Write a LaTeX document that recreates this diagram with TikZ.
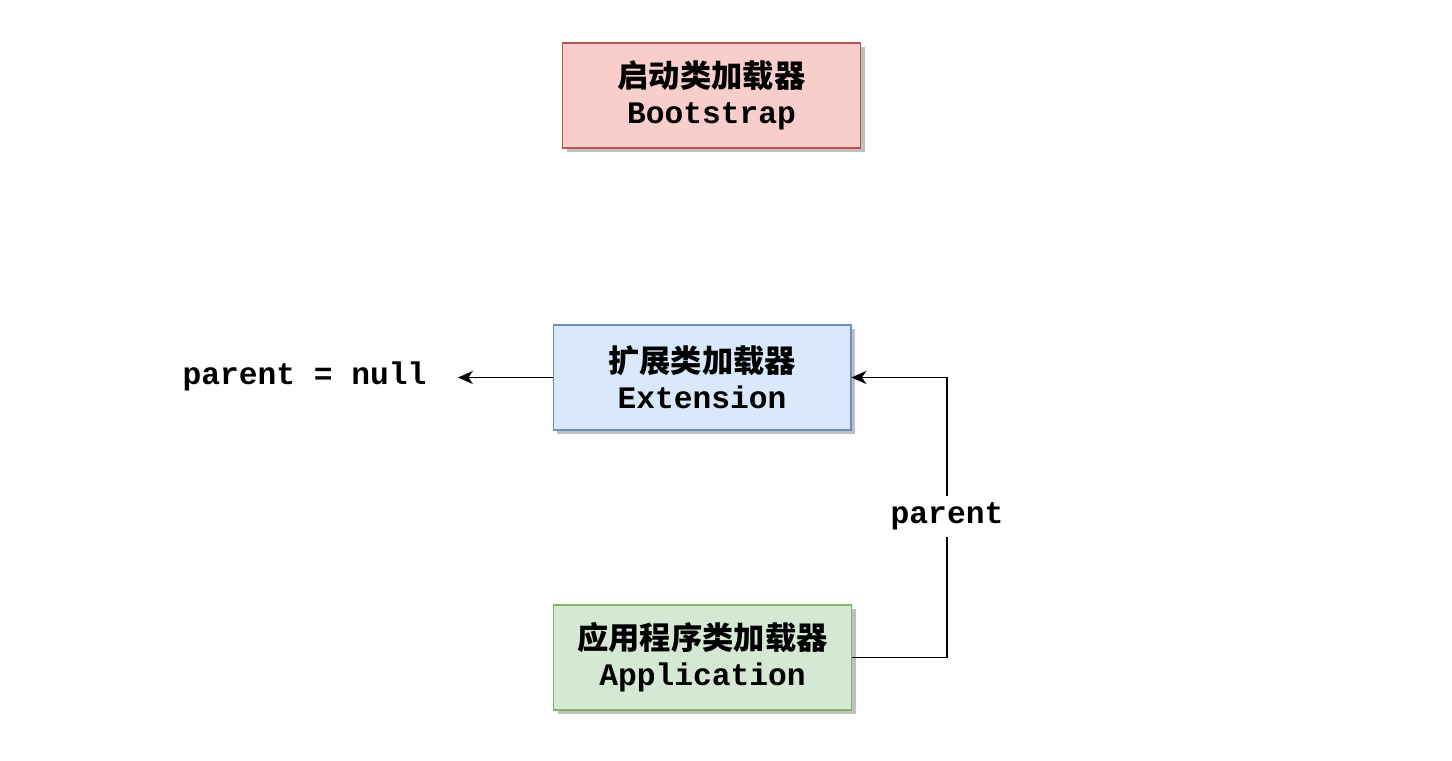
\documentclass[tikz,border=0pt]{standalone}
\usepackage{fontspec}
\setmonofont{Liberation Mono}
\newfontfamily\cjk{Noto Sans CJK SC Bold}
\usepackage{tikz}
\usetikzlibrary{arrows.meta,positioning,shadows}
\usepackage{xcolor}
\definecolor{bootFill}{HTML}{F8CECC}
\definecolor{bootLine}{HTML}{B85450}
\definecolor{extFill}{HTML}{DAE8FC}
\definecolor{extLine}{HTML}{6C8EBF}
\definecolor{appFill}{HTML}{D5E8D4}
\definecolor{appLine}{HTML}{82B366}

\begin{document}
\begin{tikzpicture}[x=0.02cm, y=-0.02cm, >={Stealth[length=8.5pt, width=7.5pt, inset=2.6pt]},
    loader/.style={draw, line width=0.6pt, minimum width=5.96cm, minimum height=2.1cm,
        inner sep=0pt, align=center,
        font=\fontsize{17.8}{20.4}\selectfont\bfseries,
        drop shadow={shadow xshift=2.3pt, shadow yshift=-2.3pt, fill=black!25, opacity=1}},
    code/.style={font=\fontsize{17.8}{20.4}\selectfont\ttfamily\bfseries, inner sep=0pt}]

        \useasboundingbox (0,0) rectangle (1452,760);

        % Loaders (middle column)
        \node[loader, fill=bootFill, draw=bootLine] (boot) at (711.5,95.5)
            {{\cjk 启动类加载器}\\\texttt{Bootstrap}};
        \node[loader, fill=extFill, draw=extLine] (ext) at (702,377.5)
            {{\cjk 扩展类加载器}\\\texttt{Extension}};
        \node[loader, fill=appFill, draw=appLine] (app) at (702.5,657.5)
            {{\cjk 应用程序类加载器}\\\texttt{Application}};

        % Parent links
        \node[code] (nullLbl) at (304.5,376) {parent = null};
        \coordinate (nullEnd) at (458,377.5);
        \draw[->, line width=0.7pt] (ext.west) -- (nullEnd);
        \draw[->, line width=0.7pt] (app.east) -- ++(95,0) |- (ext.east)
            node[code, pos=0.252, fill=white, inner sep=4pt] (parLbl) {parent};

    \end{tikzpicture}
\end{document}
